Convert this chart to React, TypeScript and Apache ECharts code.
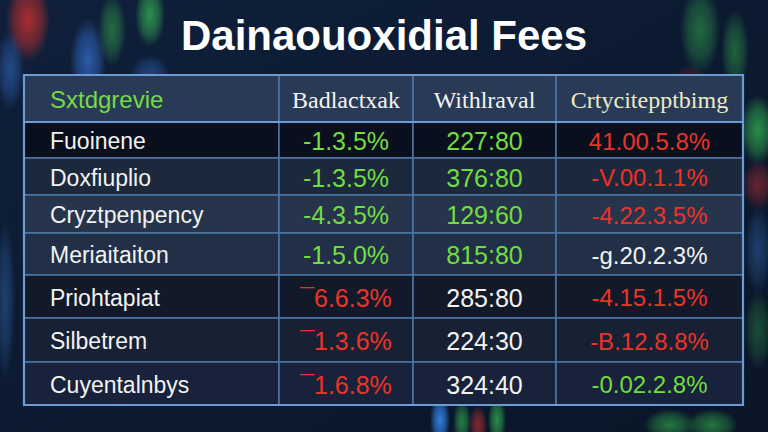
import React, { useEffect, useRef } from "react";
import * as echarts from "echarts";

// ---------- data ----------
const title = "Dainaouoxidial Fees";
const headers = ["Sxtdgrevie", "Badlactxak", "Withlraval", "Crtycitepptbimg"];
const categories = [
  "Fuoinene",
  "Doxfiuplio",
  "Cryztpenpency",
  "Meriaitaiton",
  "Priohtapiat",
  "Silbetrem",
  "Cuyentalnbys",
];
const badlactxak = ["-1.3.5%", "-1.3.5%", "-4.3.5%", "-1.5.0%", "¯6.6.3%", "¯1.3.6%", "¯1.6.8%"];
const withlraval = ["227:80", "376:80", "129:60", "815:80", "285:80", "224:30", "324:40"];
const crtycite = ["41.00.5.8%", "-V.00.1.1%", "-4.22.3.5%", "-g.20.2.3%", "-4.15.1.5%", "-B.12.8.8%", "-0.02.2.8%"];

// ---------- styles / layout (kept apart from the data) ----------
const TONE: Record<string, string> = { g: "#72dc40", r: "#ec3328", w: "#f2f2f2" };
const colTones = [
  ["w", "w", "w", "w", "w", "w", "w"],
  ["g", "g", "g", "g", "r", "r", "r"],
  ["g", "g", "g", "g", "w", "w", "w"],
  ["r", "r", "r", "w", "r", "r", "g"],
];
const headerTones = ["#74dc42", "#f4f4f4", "#f4f4f4", "#ecebc8"];
const COL_WIDTHS = [255, 134, 143, 187];
const HEADER_H = 47;
const ROW_HEIGHTS = [36, 37, 38, 42, 43, 44, 43];
const ROW_FILLS = ["#0a0f1d", "#1c283c", "#26354b", "#213046", "#121a2a", "#172133", "#18223a"];
const HEADER_FILL = "#283a55";

const colEdges = COL_WIDTHS.reduce<number[]>((a, w) => [...a, a[a.length - 1] + w], [0]);
const rowEdges = ROW_HEIGHTS.reduce<number[]>((a, h) => [...a, a[a.length - 1] + h], [0, HEADER_H]);
const TOTAL_W = colEdges[colEdges.length - 1];
const TOTAL_H = rowEdges[rowEdges.length - 1];

const columns = [categories, badlactxak, withlraval, crtycite];

function hexA(hex: string, a: number) {
  const n = parseInt(hex.slice(1), 16);
  return `rgba(${(n >> 16) & 255},${(n >> 8) & 255},${n & 255},${a})`;
}

export default function App() {
  const ref = useRef<HTMLDivElement>(null);
  useEffect(() => {
    if (!ref.current) return;
    const chart = echarts.init(ref.current, undefined, { renderer: "svg" });

    const cells: any[] = [];
    for (let c = 0; c < 4; c++) {
      cells.push({ value: [c, 0], text: headers[c], color: headerTones[c], header: true });
      for (let r = 0; r < categories.length; r++) {
        cells.push({
          value: [c, r + 1],
          text: columns[c][r],
          color: TONE[colTones[c][r]],
          header: false,
        });
      }
    }

    // soft, blurred background lights (decoration only)
    const glow = (cx: number, cy: number, rx: number, ry: number, color: string, a: number) => ({
      type: "ellipse",
      silent: true,
      z: 0,
      shape: { cx, cy, rx, ry },
      style: {
        fill: {
          type: "radial",
          x: 0.5, y: 0.5, r: 0.5,
          colorStops: [
            { offset: 0, color: hexA(color, a) },
            { offset: 0.6, color: hexA(color, a * 0.55) },
            { offset: 1, color: hexA(color, 0) },
          ],
        },
      },
    });

    const option: any = {
      animation: false,
      backgroundColor: {
        type: "linear",
        x: 0, y: 0, x2: 1, y2: 1,
        colorStops: [
          { offset: 0, color: "#10203b" },
          { offset: 0.5, color: "#0c1a31" },
          { offset: 1, color: "#0a1527" },
        ],
      },
      graphic: [
        glow(28, 20, 22, 42, "#d0302c", 0.8),
        glow(88, 60, 18, 42, "#3575d8", 0.7),
        glow(112, 30, 14, 36, "#30a04a", 0.6),
        glow(150, 15, 15, 32, "#35b552", 0.75),
        glow(150, 75, 20, 20, "#3575d8", 0.45),
        glow(10, 70, 14, 40, "#3575d8", 0.5),
        glow(700, 30, 20, 45, "#30a04a", 0.6),
        glow(735, 50, 14, 40, "#30a04a", 0.55),
        glow(690, 90, 20, 25, "#c03030", 0.45),
        glow(758, 130, 18, 35, "#35b552", 0.75),
        glow(758, 185, 16, 25, "#c03030", 0.5),
        glow(758, 250, 14, 45, "#2a5a9a", 0.6),
        glow(758, 330, 14, 40, "#30a04a", 0.4),
        glow(440, 420, 10, 25, "#3585e8", 0.95),
        glow(462, 422, 9, 22, "#30a04a", 0.75),
        glow(478, 425, 9, 20, "#b83030", 0.7),
        glow(497, 420, 9, 25, "#35b552", 0.75),
        glow(670, 425, 26, 16, "#35b552", 0.6),
        glow(712, 425, 26, 16, "#35b552", 0.6),
        glow(5, 300, 10, 80, "#2a5a9a", 0.6),
        {
          type: "text",
          left: "center",
          top: 14,
          z: 10,
          style: {
            text: title,
            fill: "#ffffff",
            font: "bold 42px 'Liberation Sans', Arial, sans-serif",
          },
        },
      ],
      grid: { left: 24, right: 768 - 24 - TOTAL_W, top: 75, height: TOTAL_H },
      xAxis: { type: "value", min: 0, max: TOTAL_W, show: false },
      yAxis: { type: "value", min: 0, max: TOTAL_H, inverse: true, show: false },
      series: [
        {
          type: "custom",
          data: cells,
          z: 5,
          renderItem: (params: any, api: any) => {
            const c = api.value(0);
            const r = api.value(1);
            const item = cells[params.dataIndex];
            const p0 = api.coord([colEdges[c], rowEdges[r]]);
            const p1 = api.coord([colEdges[c + 1], rowEdges[r + 1]]);
            const w = p1[0] - p0[0];
            const h = p1[1] - p0[1];
            const fill = r === 0 ? HEADER_FILL : ROW_FILLS[r - 1];
            const isFirst = c === 0;
            const serif = item.header && c > 0;
            const size = item.header ? 24 : c === 0 ? 23 : c === 3 ? 24 : 25;
            return {
              type: "group",
              children: [
                {
                  type: "rect",
                  shape: { x: p0[0], y: p0[1], width: w, height: h },
                  style: { fill, stroke: "#4d77a8", lineWidth: 1.5 },
                },
                {
                  type: "text",
                  style: {
                    text: item.text,
                    x: isFirst ? p0[0] + 26 : p0[0] + w / 2,
                    y: p0[1] + h / 2 + 1,
                    align: isFirst ? "left" : "center",
                    verticalAlign: "middle",
                    fill: item.color,
                    fontSize: size,
                    fontFamily: serif ? "'Liberation Serif', serif" : "'Liberation Sans', Arial, sans-serif",
                  },
                },
              ],
            };
          },
        },
        {
          type: "custom",
          data: [[0, 0]],
          z: 6,
          silent: true,
          renderItem: (_p: any, api: any) => {
            const a = api.coord([0, 0]);
            const b = api.coord([TOTAL_W, TOTAL_H]);
            const hb = api.coord([TOTAL_W, rowEdges[1]]);
            return {
              type: "group",
              children: [
                {
                  type: "rect",
                  shape: { x: a[0], y: a[1], width: b[0] - a[0], height: b[1] - a[1] },
                  style: { fill: "none", stroke: "#6b9bd2", lineWidth: 2.2 },
                },
                {
                  type: "line",
                  shape: { x1: a[0], y1: hb[1], x2: hb[0], y2: hb[1] },
                  style: { stroke: "#6b9bd2", lineWidth: 2.2 },
                },
              ],
            };
          },
        },
      ],
    };
    chart.setOption(option);
    return () => chart.dispose();
  }, []);
  return <div ref={ref} style={{ width: 768, height: 432, position: "absolute", left: 0, top: 0 }} />;
}
